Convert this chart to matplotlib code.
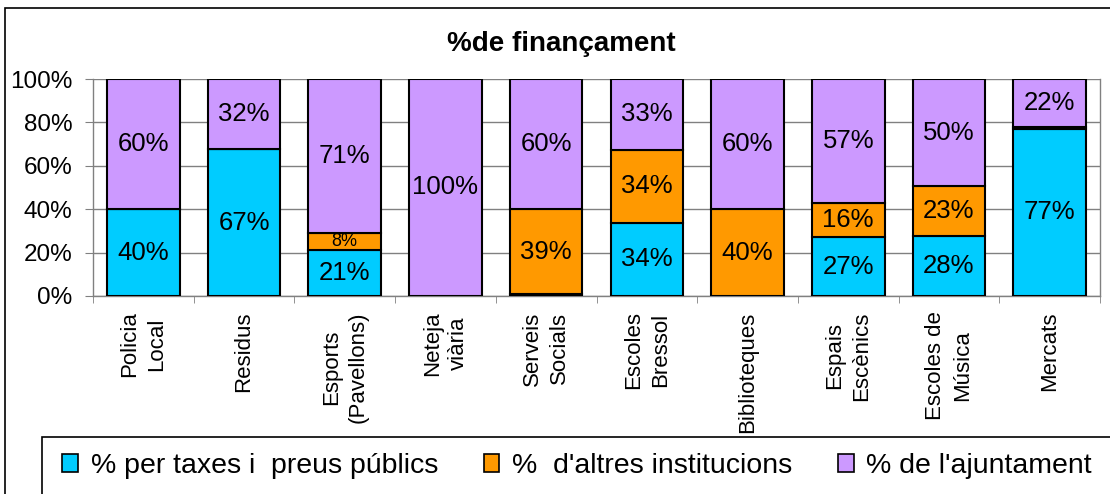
import numpy as np
import matplotlib
matplotlib.use('Agg')
import matplotlib.pyplot as plt
from matplotlib.patches import Rectangle, Patch
from matplotlib.ticker import FixedLocator, NullFormatter

plt.rcParams['font.family'] = ['Liberation Sans', 'DejaVu Sans']

categories = ['Policia\nLocal', 'Residus', 'Esports\n(Pavellons)', 'Neteja\nviària',
              'Serveis\nSocials', 'Escoles\nBressol', 'Biblioteques', 'Espais\nEscènics',
              'Escoles de\nMúsica', 'Mercats']
taxes = [40, 67, 21, 0, 1, 34, 0, 27, 28, 77]
altres = [0, 0, 8, 0, 39, 34, 40, 16, 23, 1]
ajuntament = [60, 32, 71, 100, 60, 33, 60, 57, 50, 22]
series_names = ['% per taxes i  preus públics', '%  d\'altres institucions', '% de l\'ajuntament']
colors = ['#00CCFF', '#FF9900', '#CC99FF']

data = np.array([taxes, altres, ajuntament], dtype=float)
share = data / data.sum(axis=0) * 100

fig = plt.figure(figsize=(11.1, 4.94), dpi=100)
# outer chart border (runs off the right and bottom edges)
fig.patches.append(Rectangle((5 / 1110, -0.1), 1.2, 1 - 8 / 494 + 0.1, transform=fig.transFigure,
                             fill=False, edgecolor='black', linewidth=1.2))
ax = fig.add_axes([93 / 1110, 1 - 296 / 494, (1100 - 93) / 1110, (296 - 79) / 494])

x = np.arange(len(categories))
bottom = np.zeros(len(categories))
for i in range(3):
    ax.bar(x, share[i], 0.72, bottom=bottom, color=colors[i], edgecolor='black',
           linewidth=1.5, zorder=3)
    for j in range(len(categories)):
        v = data[i, j]
        if v >= 8:
            fs = 13 if v < 10 else 18.5
            ax.text(x[j], bottom[j] + share[i, j] / 2, f'{int(v)}%', ha='center',
                    va='center', fontsize=fs, zorder=4)
    bottom += share[i]

ax.set_xlim(-0.5, len(categories) - 0.5)
ax.set_ylim(0, 100)
ax.set_yticks(np.arange(0, 101, 20))
ax.set_yticklabels([f'{v}%' for v in range(0, 101, 20)], fontsize=17.5)
ax.yaxis.grid(True, color='#808080', linewidth=1, zorder=0)
ax.set_xticks(x)
ax.set_xticklabels(categories, rotation=90, fontsize=16, va='top', ha='center',
                   multialignment='center', linespacing=1.35)
ax.tick_params(axis='x', which='major', length=0, pad=11)
ax.xaxis.set_minor_locator(FixedLocator(np.arange(-0.5, len(categories), 1)))
ax.xaxis.set_minor_formatter(NullFormatter())
ax.tick_params(axis='x', which='minor', length=5, color='#808080', direction='out')
ax.tick_params(axis='y', length=6, color='#808080', direction='out', pad=9)
ax.spines['top'].set_visible(False)
for s in ['left', 'right', 'bottom']:
    ax.spines[s].set_color('#808080')
    ax.spines[s].set_linewidth(1)

fig.text(561 / 1110, 1 - 44 / 494, '%de finançament', ha='center', va='center',
         fontsize=20, fontweight='bold')

# legend box (runs off the right and bottom edges)
fig.patches.append(Rectangle((42 / 1110, -0.1), 1.2, 1 - 437 / 494 + 0.1, transform=fig.transFigure,
                             fill=False, edgecolor='black', linewidth=1.2))
handles = [Patch(facecolor=c, edgecolor='black', linewidth=1.2) for c in colors]
fig.legend(handles, series_names, loc='center left',
           bbox_to_anchor=(48 / 1110, 1 - 466 / 494), ncol=3, frameon=False,
           fontsize=20.5, handlelength=0.55, handleheight=0.55, handletextpad=0.45,
           columnspacing=1.6, borderpad=0)

fig.savefig('out.png', dpi=100)
